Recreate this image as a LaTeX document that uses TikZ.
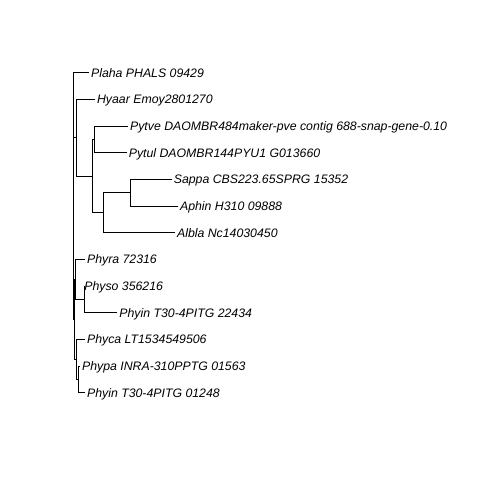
\documentclass[tikz,border=0pt]{standalone}
\usepackage{fontspec}
\setmainfont{Liberation Sans}

\begin{document}
\begin{tikzpicture}[x=0.02cm,y=-0.02cm,
    tip/.style={anchor=west,inner sep=1pt,text height=5pt,text depth=0pt,
      font=\fontsize{7}{8}\selectfont\itshape},
    branch/.style={line width=0.4pt}]
  \useasboundingbox (0,0) rectangle (480,480);

  % Define the internal nodes of the tree
  \coordinate (root) at (73.3,196.0);
  \coordinate (hya)  at (76.7,137.7);
  \coordinate (inn)  at (92.3,176.0);
  \coordinate (pyt)  at (94.3,139.4);
  \coordinate (saa)  at (103.3,212.7);
  \coordinate (sa)   at (130.0,192.7);
  \coordinate (phy)  at (74.5,319.4);
  \coordinate (cla)  at (75.5,279.4);
  \coordinate (phs)  at (84.0,299.4);
  \coordinate (clb)  at (76.5,359.4);
  \coordinate (ppn)  at (78.3,379.4);

  % Define the tips with their labels
  \node[tip] (plaha)  at (89.0,72.7)   {Plaha PHALS 09429};
  \node[tip] (hyaar)  at (95.0,99.4)   {Hyaar Emoy2801270};
  \node[tip] (pytve)  at (128.0,126.0) {Pytve DAOMBR484maker-pve contig 688-snap-gene-0.10};
  \node[tip] (pytul)  at (126.7,152.7) {Pytul DAOMBR144PYU1 G013660};
  \node[tip] (sappa)  at (171.7,179.4) {Sappa CBS223.65SPRG 15352};
  \node[tip] (aphin)  at (178.0,206.0) {Aphin H310 09888};
  \node[tip] (albla)  at (175.0,232.7) {Albla Nc14030450};
  \node[tip] (phyra)  at (85.0,259.4)  {Phyra 72316};
  \node[tip,inner sep=0pt] (physo) at (84.0,286.1) {Physo 356216};
  \node[tip] (phyinA) at (117.3,312.7) {Phyin T30-4PITG 22434};
  \node[tip] (phyca)  at (85.0,339.4)  {Phyca LT1534549506};
  \node[tip] (phypa)  at (80.0,366.1)  {Phypa INRA-310PPTG 01563};
  \node[tip] (phyinB) at (85.0,392.7)  {Phyin T30-4PITG 01248};

  % Draw the branches
  \draw[branch] (root) |- (plaha.west);
  \draw[branch] (root) |- (hya);
  \draw[branch] (root) |- (phy);
  \draw[branch] (hya) |- (hyaar.west);
  \draw[branch] (hya) |- (inn);
  \draw[branch] (inn) |- (pyt);
  \draw[branch] (inn) |- (saa);
  \draw[branch] (pyt) |- (pytve.west);
  \draw[branch] (pyt) |- (pytul.west);
  \draw[branch] (saa) |- (sa);
  \draw[branch] (saa) |- (albla.west);
  \draw[branch] (sa) |- (sappa.west);
  \draw[branch] (sa) |- (aphin.west);
  \draw[branch] (phy) |- (cla);
  \draw[branch] (phy) |- (clb);
  \draw[branch] (cla) |- (phyra.west);
  \draw[branch] (cla) |- (phs);
  \draw[branch] (phs) |- (physo.west);
  \draw[branch] (phs) |- (phyinA.west);
  \draw[branch] (clb) |- (phyca.west);
  \draw[branch] (clb) |- (ppn);
  \draw[branch] (ppn) |- (phypa.west);
  \draw[branch] (ppn) |- (phyinB.west);
\end{tikzpicture}
\end{document}
